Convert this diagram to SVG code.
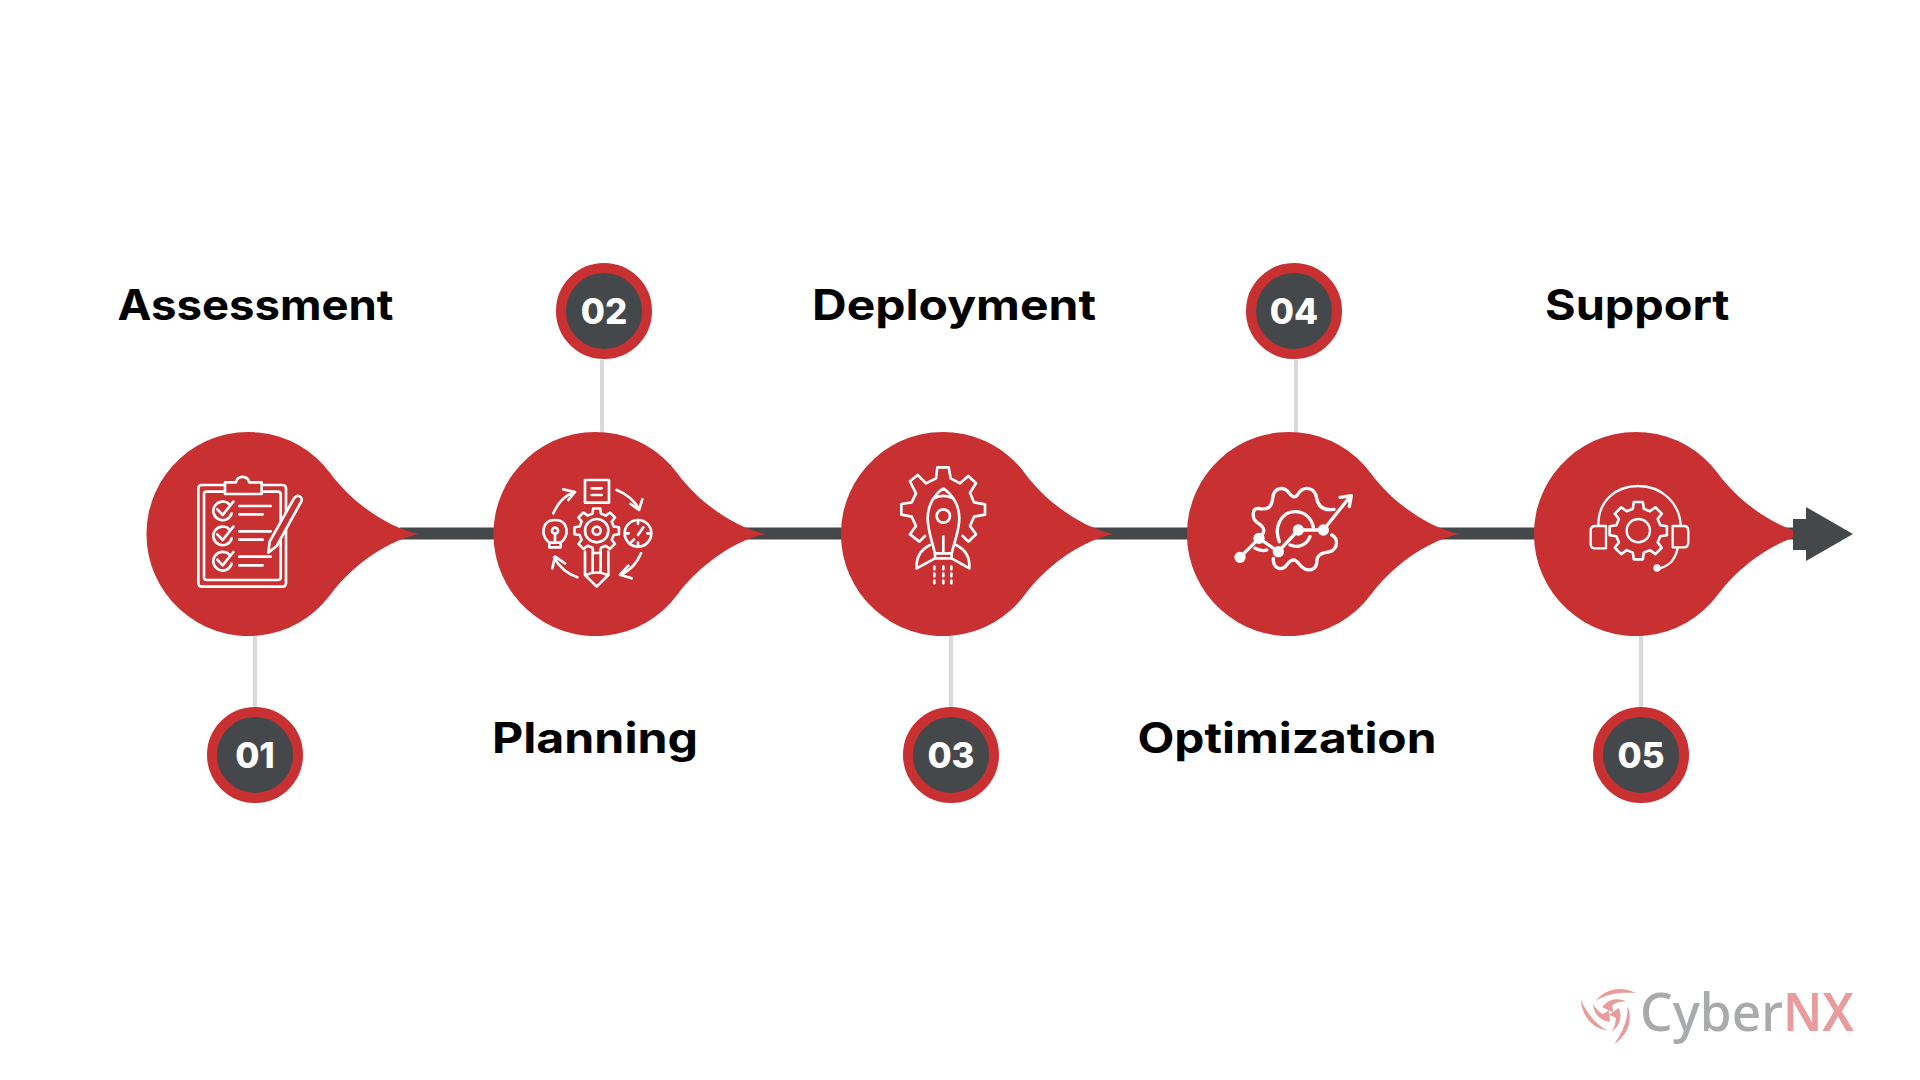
<svg xmlns="http://www.w3.org/2000/svg" xmlns:xlink="http://www.w3.org/1999/xlink" width="1920" height="1080" viewBox="0 0 1920 1080">
<style>
.drop{fill:#c83032}
.stem{stroke:#d9d9d9;stroke-width:4;fill:none}
.ring{fill:#44484b;stroke:#c83032;stroke-width:10}
.num{font-family:Inter,"Liberation Sans",sans-serif;font-weight:800;font-size:35px;fill:#fff;text-anchor:middle}
.title{font-family:Inter,"Liberation Sans",sans-serif;font-weight:700;font-size:42px;fill:#000}
.ic{fill:none;stroke:#fff;stroke-width:8;stroke-linecap:round;stroke-linejoin:round}
.gear{fill:none;stroke:#fff;stroke-width:2.6;stroke-linejoin:round;vector-effect:non-scaling-stroke}
.dot{fill:#fff;stroke:none}
.logo{font-family:"Noto Sans","Open Sans",sans-serif;font-size:53px}
</style>
<defs>
<path id="drop" d="M170,0C134,-8 100,-36 82,-60.6A102,102 0 1 0 82,60.6C100,36 134,8 170,0Z"/>
<path id="gear8" class="gear" d="M75.7,-18.9L98.8,-15.6L98.8,15.6L75.7,18.9L66.9,40.2L80.9,58.8L58.8,80.9L40.2,66.9L18.9,75.7L15.6,98.8L-15.6,98.8L-18.9,75.7L-40.2,66.9L-58.8,80.9L-80.9,58.8L-66.9,40.2L-75.7,18.9L-98.8,15.6L-98.8,-15.6L-75.7,-18.9L-66.9,-40.2L-80.9,-58.8L-58.8,-80.9L-40.2,-66.9L-18.9,-75.7L-15.6,-98.8L15.6,-98.8L18.9,-75.7L40.2,-66.9L58.8,-80.9L80.9,-58.8L66.9,-40.2Z"/>
<g id="blade">
<path d="M218,72C175,50 125,60 100,95C130,75 170,68 218,72Z"/>
<path d="M190,98C165,85 135,90 118,115L150,130L148,108C160,100 175,97 190,98Z"/>
</g>
</defs>
<rect width="1920" height="1080" fill="#fff"/>
<g id="connectors">
<rect x="400" y="527.5" width="1400" height="12" fill="#44484b"/>
<path class="stem" d="M255,630V712M602,360V436M951,630V712M1296,360V436M1641,630V712"/>
</g>
<g id="node-1">
<use href="#drop" class="drop" x="248.5" y="534"/>
<g transform="translate(130,420) scale(.33333)" class="ic">
<rect x="205" y="195" width="263" height="305" rx="10"/>
<rect x="222" y="215" width="230" height="265" rx="8"/>
<path d="M285,222V187H318C322,165 352,165 358,187H395V222Z" fill="#c83032"/>
<path d="M298,253A28,28 0 1 0 305,280M262,268L278,285L310,245M298,328A28,28 0 1 0 305,355M262,343L278,360L310,320M298,404A28,28 0 1 0 305,431M262,419L278,436L310,396"/>
<path d="M328,258H422M328,283H398M328,334H422M328,359H398M328,410H422M328,436H398"/>
<path d="M415,398L419,365L492,235Q503,222 513,232Q518,240 512,248L440,378Z" fill="#c83032"/>
</g>
<circle class="ring" cx="255" cy="755" r="43"/>
<text class="num" x="255" y="768">01</text>
<text class="title" x="117.5" y="320" textLength="276" lengthAdjust="spacingAndGlyphs">Assessment</text>
</g>
<g id="node-2">
<use href="#drop" class="drop" x="595.5" y="534"/>
<g transform="translate(480,420) scale(.33333)" class="ic">
<rect x="315" y="180" width="72" height="68"/>
<path d="M335,205H365M335,225H365"/>
<path d="M220,280Q240,232 283,216M250,208L285,216L265,240M410,210Q455,228 478,268M487,238L477,270L452,252M483,400Q465,445 422,465M455,475L420,464L445,437M292,472Q245,455 222,412M217,445L225,410L255,430"/>
<path d="M208,368C180,345 185,300 225,300C265,300 270,345 242,368V382H208ZM225,342V368M208,368H242"/>
<circle cx="225" cy="332" r="9"/>
<circle cx="350" cy="332" r="35"/><circle cx="350" cy="332" r="12"/>
<path d="M315,395V465L350,500L385,465V395M338,395V455M362,395V455M318,465Q350,450 383,465"/>
<circle cx="474" cy="340" r="40"/>
<path d="M474,345L490,322M474,302V312M474,368V378M436,340H446M502,340H512M452,368L462,358"/>
</g>
<use href="#gear8" transform="translate(596.7,530.7) scale(.225)"/>
<circle class="ring" cx="604" cy="311" r="43"/>
<text class="num" x="604" y="324">02</text>
<text class="title" x="492" y="752.5" textLength="206" lengthAdjust="spacingAndGlyphs">Planning</text>
</g>
<g id="node-3">
<use href="#drop" class="drop" x="943" y="534"/>
<g transform="translate(830,440) scale(.33333)" class="ic">
<path d="M285,288L268,305L240,283L258,258L245,230L214,224L214,192L245,187L258,160L240,124L263,105L288,130L318,115L322,82H356L362,115L390,130L415,108L438,130L420,158L432,187L465,193V224L432,230L420,258L438,283L415,305L398,288"/>
<path d="M340,145C310,165 293,200 293,235C293,270 305,300 315,340H365C375,300 388,270 388,235C388,200 370,165 340,145ZM312,175Q340,160 368,175M340,290V335"/>
<circle cx="340" cy="228" r="20"/>
<path d="M315,340V355H365V340M300,315C270,330 258,355 260,385L315,355M378,315C410,330 420,355 418,385L365,355"/>
<path d="M313,380V440M340,380V440M364,380V440" stroke-dasharray="8 13"/>
</g>
<circle class="ring" cx="951" cy="755" r="43"/>
<text class="num" x="951" y="768">03</text>
<text class="title" x="812" y="320" textLength="284" lengthAdjust="spacingAndGlyphs">Deployment</text>
</g>
<g id="node-4">
<use href="#drop" class="drop" x="1289" y="534"/>
<g transform="translate(1180,440) scale(.33333)" class="ic" style="stroke-width:10">
<path d="M462,208C435,212 415,205 410,175C405,140 370,135 352,165C345,175 335,170 328,160C310,135 280,145 278,175C275,205 260,210 235,205C215,205 215,235 232,248C255,262 255,275 245,285"/>
<path d="M455,285C475,295 475,325 450,335C420,340 410,345 410,370C405,395 375,395 360,375C345,355 335,355 320,375C305,395 278,385 280,355"/>
<path d="M298,305C280,260 305,215 345,215C375,215 395,235 400,262M330,315C355,325 380,315 390,290M225,325Q245,335 260,330"/>
<path d="M180,352L237,295L295,335L355,270H430L510,170M480,172L514,167L508,200"/>
<circle class="dot" cx="180" cy="352" r="17"/><circle class="dot" cx="237" cy="295" r="17"/><circle class="dot" cx="295" cy="335" r="17"/><circle class="dot" cx="355" cy="270" r="17"/><circle class="dot" cx="430" cy="270" r="17"/>
</g>
<circle class="ring" cx="1294" cy="311" r="43"/>
<text class="num" x="1294" y="324">04</text>
<text class="title" x="1137.5" y="752.5" textLength="299" lengthAdjust="spacingAndGlyphs">Optimization</text>
</g>
<g id="node-5">
<use href="#drop" class="drop" x="1636" y="534"/>
<g transform="translate(1530,440) scale(.33333)" class="ic" style="stroke-width:7">
<path d="M205,255C205,180 260,138 325,138C395,138 450,190 452,258"/>
<path d="M228,258H195Q182,258 182,272V312Q182,325 195,325H228ZM428,258H462Q475,258 475,272V305Q475,322 462,322H428ZM443,325C435,360 420,375 390,385"/>
<circle cx="325" cy="272" r="35"/>
<circle class="dot" cx="381" cy="384" r="11"/>
</g>
<use href="#gear8" transform="translate(1638.3,530.7) scale(.29)"/>
<circle class="ring" cx="1641" cy="755" r="43"/>
<text class="num" x="1641" y="768">05</text>
<text class="title" x="1545" y="320" textLength="184.5" lengthAdjust="spacingAndGlyphs">Support</text>
</g>
<path id="arrow" fill="#44484b" d="M1793,519H1806V507L1853,534L1806,561V550H1793Z"/>
<g id="logo">
<g transform="translate(1563,969) scale(.33333)" fill="#e89c9c">
<use href="#blade"/>
<use href="#blade" transform="rotate(120 142 130)"/>
<use href="#blade" transform="rotate(240 142 130)"/>
</g>
<text class="logo" x="1640" y="1031" fill="#a8aaac" font-weight="500" textLength="143" lengthAdjust="spacingAndGlyphs">Cyber</text>
<text class="logo" x="1783" y="1031" fill="#e89c9c" font-weight="600" textLength="71" lengthAdjust="spacingAndGlyphs">NX</text>
</g>
</svg>
